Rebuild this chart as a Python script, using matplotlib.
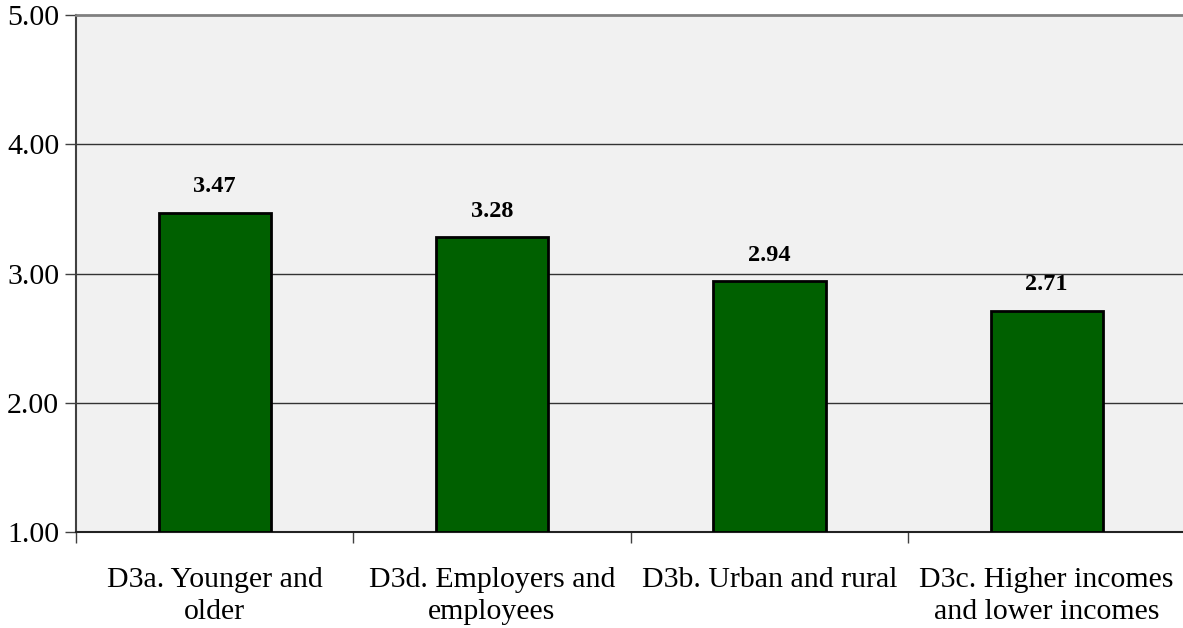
import numpy as np
import matplotlib.pyplot as plt

categories = ["D3a. Younger and\nolder", "D3d. Employers and\nemployees",
              "D3b. Urban and rural", "D3c. Higher incomes\nand lower incomes"]
values = [3.47, 3.28, 2.94, 2.71]
yticks = [1.0, 2.0, 3.0, 4.0, 5.0]

plt.rcParams['font.family'] = ['Liberation Serif', 'DejaVu Serif']

fig = plt.figure(figsize=(11.83, 6.28), dpi=100)
ax = fig.add_axes([76/1183, 1 - 532/628, 1 - 76/1183 + 0.002, (532 - 15)/628])
ax.set_facecolor('#f1f1f1')

x = np.arange(len(categories))
base = 1.0
bars = ax.bar(x, np.array(values) - base, bottom=base, width=0.405,
              color='#006000', edgecolor='black', linewidth=2, zorder=3)

for xi, v in zip(x, values):
    ax.text(xi, v + 0.12, f"{v:.2f}", ha='center', va='bottom',
            fontsize=17.5, fontweight='bold', zorder=4)

ax.set_xlim(-0.5, len(categories) - 0.5)
ax.set_ylim(1.0, 5.0)
ax.set_yticks(yticks)
ax.set_yticklabels([f"{t:.2f}" for t in yticks], fontsize=21.5)
ax.tick_params(axis='y', direction='out', length=8, width=1, color='#404040', pad=4)

# category labels centred, tick marks between categories
ax.set_xticks(x)
ax.set_xticklabels(categories, fontsize=21.5, linespacing=1.3, va='top')
ax.tick_params(axis='x', length=0, pad=25)
ax.set_xticks(np.arange(len(categories) + 1) - 0.5, minor=True)
ax.tick_params(axis='x', which='minor', direction='out', length=8, width=1, color='#404040')

for t in [2.0, 3.0, 4.0]:
    ax.axhline(t, color='#333333', linewidth=1, zorder=1)

ax.spines['top'].set_color('#808080')
ax.spines['top'].set_linewidth(2)
ax.spines['right'].set_visible(False)
ax.spines['left'].set_color('#404040')
ax.spines['left'].set_linewidth(1.5)
ax.spines['bottom'].set_color('#222222')
ax.spines['bottom'].set_linewidth(1.5)

fig.savefig('out.png', dpi=100)
